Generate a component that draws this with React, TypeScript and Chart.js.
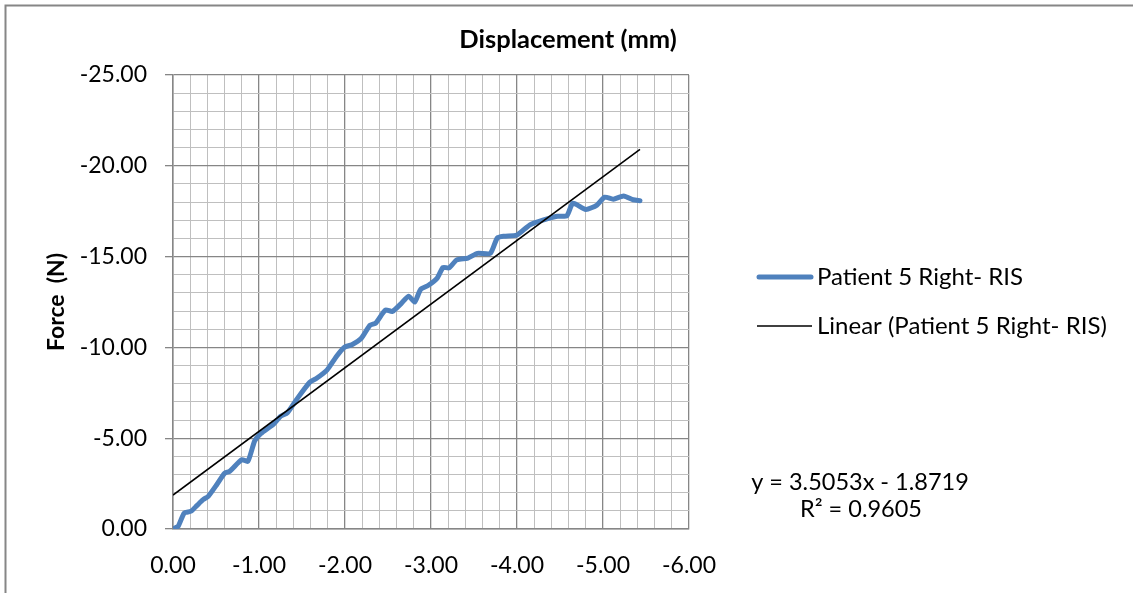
import React, { useEffect, useRef } from "react";
import { Chart, registerables } from "chart.js";

Chart.register(...registerables);

// Displacement (mm) and Force (N) readings
const displacement = [
  0, -0.06, -0.13, -0.21, -0.28, -0.35, -0.41, -0.51, -0.6, -0.66, -0.8, -0.87, -0.95, -1.02,
  -1.17, -1.25, -1.33, -1.44, -1.59, -1.67, -1.79, -1.9, -1.99, -2.08, -2.19, -2.29, -2.36,
  -2.47, -2.55, -2.65, -2.74, -2.81, -2.88, -2.97, -3.07, -3.14, -3.21, -3.3, -3.43, -3.54,
  -3.69, -3.77, -3.85, -4.0, -4.15, -4.31, -4.47, -4.58, -4.65, -4.8, -4.93, -5.02, -5.12,
  -5.24, -5.35, -5.43,
];
const force = [
  0, -0.15, -0.88, -0.98, -1.3, -1.62, -1.8, -2.45, -3.07, -3.18, -3.82, -3.72, -4.85, -5.25,
  -5.78, -6.2, -6.4, -7.15, -8.08, -8.3, -8.75, -9.5, -10.0, -10.15, -10.5, -11.22, -11.35,
  -12.06, -11.98, -12.4, -12.82, -12.5, -13.2, -13.42, -13.8, -14.4, -14.38, -14.82, -14.92,
  -15.18, -15.18, -16.02, -16.12, -16.19, -16.75, -17.02, -17.22, -17.25, -17.94, -17.6,
  -17.84, -18.27, -18.16, -18.34, -18.13, -18.08,
];
// Linear trendline endpoints (y = 3.5053x - 1.8719)
const trendX = [0, -5.43];
const trendY = [-1.87, -20.91];

const seriesLabel = "Patient 5 Right- RIS";
const trendLabel = "Linear (Patient 5 Right- RIS)";
const equationText = "y = 3.5053x - 1.8719";
const r2Text = "R² = 0.9605";
const chartTitle = "Displacement (mm)";
const yTitle = "Force  (N)";

const FONT = "Lato, 'Noto Sans', sans-serif";
const BLUE = "#4F81BD";
const MAJOR = "#868686";
const MINOR = "#BFBFBF";

const isInt = (v: number, step: number) => Math.abs(v / step - Math.round(v / step)) < 1e-6;

const overlay = {
  id: "overlay",
  beforeDraw(chart: any) {
    const ctx = chart.ctx;
    ctx.save();
    ctx.fillStyle = "#ffffff";
    ctx.fillRect(0, 0, chart.width, chart.height);
    ctx.strokeStyle = MAJOR;
    ctx.lineWidth = 2;
    ctx.strokeRect(5.5, 5.5, 3000, 3000);
    ctx.restore();
  },
  afterDraw(chart: any) {
    const ctx = chart.ctx;
    ctx.save();
    // title
    ctx.fillStyle = "#000";
    ctx.font = `bold 25.5px ${FONT}`;
    ctx.textAlign = "center";
    ctx.textBaseline = "middle";
    ctx.fillText(chartTitle, 568, 40);
    // legend
    ctx.font = `24px ${FONT}`;
    ctx.textAlign = "left";
    ctx.lineCap = "round";
    ctx.strokeStyle = BLUE;
    ctx.lineWidth = 5;
    ctx.beginPath();
    ctx.moveTo(759, 277);
    ctx.lineTo(811, 277);
    ctx.stroke();
    ctx.fillText(seriesLabel, 817, 277);
    ctx.lineCap = "butt";
    ctx.strokeStyle = "#000";
    ctx.lineWidth = 1.5;
    ctx.beginPath();
    ctx.moveTo(757, 326);
    ctx.lineTo(812, 326);
    ctx.stroke();
    ctx.fillText(trendLabel, 817, 326);
    // equation
    ctx.textAlign = "center";
    ctx.font = `23.5px ${FONT}`;
    ctx.fillText(equationText, 860, 482);
    ctx.fillText(r2Text, 861, 509);
    ctx.restore();
  },
};

export default function App() {
  const ref = useRef<HTMLCanvasElement | null>(null);

  useEffect(() => {
    if (!ref.current) return;
    const chart = new Chart(ref.current, {
      type: "scatter",
      data: {
        datasets: [
          {
            label: trendLabel,
            data: trendX.map((x, i) => ({ x, y: trendY[i] })),
            showLine: true,
            borderColor: "#000",
            borderWidth: 1.6,
            pointRadius: 0,
            order: 1,
          },
          {
            label: seriesLabel,
            data: displacement.map((x, i) => ({ x, y: force[i] })),
            showLine: true,
            borderColor: BLUE,
            borderWidth: 5,
            pointRadius: 0,
            tension: 0.2,
            borderJoinStyle: "round",
            borderCapStyle: "round",
            order: 2,
          },
        ],
      },
      options: {
        responsive: false,
        animation: false,
        events: [],
        layout: { padding: { left: 10, top: 75, right: 444, bottom: 0 } },
        plugins: {
          legend: { display: false },
          tooltip: { enabled: false },
          title: { display: false },
        },
        scales: {
          x: {
            type: "linear",
            min: -6,
            max: 0,
            reverse: true,
            afterFit: (s: any) => {
              s.height = 64;
            },
            border: { color: MAJOR, width: 1.5 },
            grid: {
              color: (c: any) => (isInt(c.tick.value, 1) ? MAJOR : MINOR),
              lineWidth: (c: any) => (isInt(c.tick.value, 1) ? 1.3 : 1),
              tickLength: 8,
              tickColor: "transparent",
            },
            ticks: {
              stepSize: 0.2,
              autoSkip: false,
              maxRotation: 0,
              minRotation: 0,
              padding: 15,
              color: "#000",
              font: { family: FONT, size: 23 },
              callback: (v: any) => (isInt(Number(v), 1) ? Number(v).toFixed(2) : ""),
            },
          },
          y: {
            type: "linear",
            min: -25,
            max: 0,
            reverse: true,
            afterFit: (s: any) => {
              s.width = 163;
            },
            border: { color: MAJOR, width: 1.5 },
            grid: {
              color: (c: any) => (isInt(c.tick.value, 5) ? MAJOR : MINOR),
              lineWidth: (c: any) => (isInt(c.tick.value, 5) ? 1.3 : 1),
              tickLength: 8,
              tickColor: (c: any) => (isInt(c.tick.value, 5) ? MAJOR : "transparent"),
            },
            ticks: {
              stepSize: 1,
              autoSkip: false,
              padding: 18,
              color: "#000",
              font: { family: FONT, size: 23 },
              callback: (v: any) => (isInt(Number(v), 5) ? Number(v).toFixed(2) : ""),
            },
            title: {
              display: true,
              text: yTitle,
              color: "#000",
              font: { family: FONT, size: 23, weight: "bold" },
              padding: { top: 33, bottom: 0 },
            },
          },
        },
      },
      plugins: [overlay],
    } as any);
    return () => chart.destroy();
  }, []);

  return (
    <div style={{ position: "fixed", left: 0, top: 0, width: 1133, height: 593, background: "#fff" }}>
      <canvas ref={ref} width={1133} height={593} style={{ display: "block", width: 1133, height: 593 }} />
    </div>
  );
}
